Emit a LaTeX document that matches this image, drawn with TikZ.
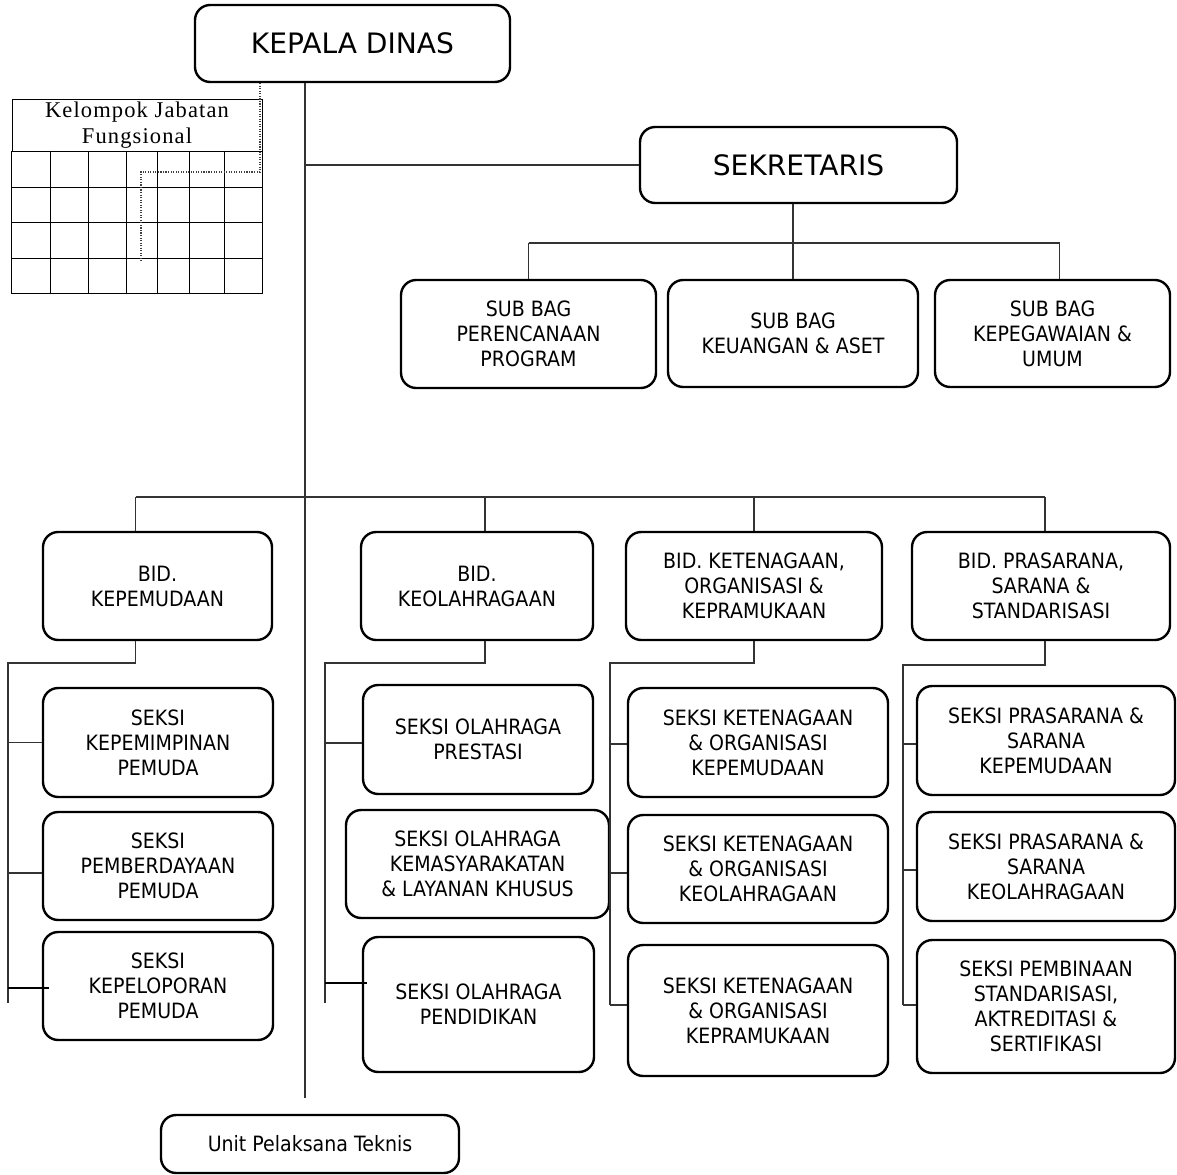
\documentclass[tikz,border=0pt]{standalone}
\usepackage{fontspec}
\usepackage{tikz}
\usetikzlibrary{calc}
\newfontfamily\orgfont{DejaVu Sans}
\newfontfamily\seksifont[FakeStretch=0.9]{DejaVu Sans}
\newfontfamily\jffont[LetterSpace=5]{Liberation Serif}
\newlength\pu
\setlength\pu{0.025cm}
\tikzset{
  org/.style={draw=black, line width=1.7pt, rounded corners=0.38cm, align=center, inner sep=0pt},
  big/.style={font=\orgfont\fontsize{20}{24}\selectfont},
  sml/.style={font=\seksifont\fontsize{15}{17.8}\selectfont},
  sz/.style 2 args={minimum width=#1*\pu, minimum height=#2*\pu},
  conn/.style={draw=black!80, line width=0.9pt},
  connb/.style={draw=black, line width=1.5pt},
  dotl/.style={draw=black!75, densely dotted, line width=0.8pt},
  grid/.style={draw=black, line width=0.7pt},
}
\begin{document}
\begin{tikzpicture}[x=0.025cm,y=-0.025cm]
  \useasboundingbox (0,0) rectangle (1177,1175);
  % pimpinan
  \node[org,big,sz={315}{77}] (kadis) at (352.5,43.5) {KEPALA DINAS};
  \node[org,big,sz={317}{76}] (sekr) at (798.5,165) {SEKRETARIS};
  \node[org,sml,sz={255}{108}] (sbp) at (528.5,334) {SUB BAG\\PERENCANAAN\\PROGRAM};
  \node[org,sml,sz={250}{107}] (sbk) at (793,333.5) {SUB BAG\\KEUANGAN \& ASET};
  \node[org,sml,sz={235}{107}] (sbu) at (1052.5,333.5) {SUB BAG\\KEPEGAWAIAN \&\\UMUM};
  % kelompok jabatan fungsional
  \node[draw=black, line width=0.7pt, sz={250}{52}, inner sep=0pt, align=center,
        font=\jffont\fontsize{16}{18.5}\selectfont] (jf) at (137,125) {Kelompok Jabatan\\Fungsional};
  \draw[grid] (jf.south west) rectangle (262,293);
  \foreach \x in {50,88,126,157,189,224}
    \draw[grid] (\x,151) -- (\x,293);
  \foreach \y in {187,222,258}
    \draw[grid] (12,\y) -- (262,\y);
  % bidang
  \node[org,sml,sz={229}{108}] (bid1) at (157.5,586) {BID.\\KEPEMUDAAN};
  \node[org,sml,sz={232}{108}] (bid2) at (477,586) {BID.\\KEOLAHRAGAAN};
  \node[org,sml,sz={256}{108}] (bid3) at (754,586) {BID. KETENAGAAN,\\ORGANISASI \&\\KEPRAMUKAAN};
  \node[org,sml,sz={258}{108}] (bid4) at (1041,586) {BID. PRASARANA,\\SARANA \&\\STANDARISASI};
  % seksi
  \node[org,sml,sz={230}{109}] (s11) at (158,742.5) {SEKSI\\KEPEMIMPINAN\\PEMUDA};
  \node[org,sml,sz={230}{108}] (s12) at (158,866) {SEKSI\\PEMBERDAYAAN\\PEMUDA};
  \node[org,sml,sz={230}{108}] (s13) at (158,986) {SEKSI\\KEPELOPORAN\\PEMUDA};
  \node[org,sml,sz={230}{109}] (s21) at (478,739.5) {SEKSI OLAHRAGA\\PRESTASI};
  \node[org,sml,sz={263}{108}] (s22) at (477.5,864) {SEKSI OLAHRAGA\\KEMASYARAKATAN\\\& LAYANAN KHUSUS};
  \node[org,sml,sz={231}{135}] (s23) at (478.5,1004.5) {SEKSI OLAHRAGA\\PENDIDIKAN};
  \node[org,sml,sz={260}{109}] (s31) at (758,742.5) {SEKSI KETENAGAAN\\\& ORGANISASI\\KEPEMUDAAN};
  \node[org,sml,sz={260}{108}] (s32) at (758,869) {SEKSI KETENAGAAN\\\& ORGANISASI\\KEOLAHRAGAAN};
  \node[org,sml,sz={260}{131}] (s33) at (758,1010.5) {SEKSI KETENAGAAN\\\& ORGANISASI\\KEPRAMUKAAN};
  \node[org,sml,sz={258}{109}] (s41) at (1046,740.5) {SEKSI PRASARANA \&\\SARANA\\KEPEMUDAAN};
  \node[org,sml,sz={258}{109}] (s42) at (1046,866.5) {SEKSI PRASARANA \&\\SARANA\\KEOLAHRAGAAN};
  \node[org,sml,sz={258}{133}] (s43) at (1046,1006.5) {SEKSI PEMBINAAN\\STANDARISASI,\\AKTREDITASI \&\\SERTIFIKASI};
  \node[org,sml,sz={298}{58}] (upt) at (310,1144) {Unit Pelaksana Teknis};

  % garis komando
  \coordinate (tr) at (305,1098);
  \coordinate (sbar) at (0,243);
  \coordinate (bbar) at (0,497);
  \draw[conn] (kadis.south -| tr) -- (tr);
  \draw[conn] (sekr.west -| tr) -- (sekr.west);
  \draw[conn] (sekr.south -| sbk.north) -- (sbk.north);
  \draw[conn] (sbp.north |- sbar) -- ($(sbu.north |- sbar)+(7,0)$);
  \draw[conn] (sbp.north |- sbar) -- (sbp.north);
  \draw[conn] ($(sbu.north |- sbar)+(7,0)$) -- ($(sbu.north)+(7,0)$);
  \draw[conn] ($(bid1.north |- bbar)+(-22,0)$) -- ($(bid4.north |- bbar)+(4,0)$);
  \draw[conn] ($(bid1.north |- bbar)+(-22,0)$) -- ($(bid1.north)+(-22,0)$);
  \draw[conn] ($(bid2.north |- bbar)+(8,0)$) -- ($(bid2.north)+(8,0)$);
  \draw[conn] (bid3.north |- bbar) -- (bid3.north);
  \draw[conn] ($(bid4.north |- bbar)+(4,0)$) -- ($(bid4.north)+(4,0)$);
  % garis jabatan fungsional
  \coordinate (fk) at (260,172);
  \coordinate (fj) at (141,261);
  \draw[dotl] (kadis.south -| fk) -- (fk) -| (fj);

  % bidang ke seksi
  \coordinate (l1) at (8,663);
  \coordinate (l2) at (325,663);
  \coordinate (l3) at (610,663);
  \coordinate (l4) at (903,665);
  \draw[conn] ($(bid1.south)+(-22,0)$) |- (l1) -- (8,1003);
  \draw[conn] (s11.west -| l1) -- (s11.west);
  \draw[conn] ($(s12.west -| l1)+(0,7)$) -- ($(s12.west)+(0,7)$);
  \draw[connb] ($(s13.west -| l1)+(0,2)$) -- ($(s13.west)+(7,2)$);
  \draw[conn] ($(bid2.south)+(8,0)$) |- (l2) -- (325,1003);
  \draw[conn] ($(s21.west -| l2)+(0,3.5)$) -- ($(s21.west)+(0,3.5)$);
  \draw[connb] ($(s23.west -| l2)+(0,-21.5)$) -- ($(s23.west)+(5,-21.5)$);
  \draw[conn] (bid3.south) |- (l3) -- (610,1005);
  \draw[conn] ($(s31.west -| l3)+(0,1.5)$) -- ($(s31.west)+(0,1.5)$);
  \draw[conn] ($(s32.west -| l3)+(0,4)$) -- ($(s32.west)+(0,4)$);
  \draw[conn] ($(s33.west -| l3)+(0,-5.5)$) -- ($(s33.west)+(0,-5.5)$);
  \draw[conn] ($(bid4.south)+(4,0)$) |- (l4) -- (903,1005);
  \draw[conn] ($(s41.west -| l4)+(0,3.5)$) -- ($(s41.west)+(0,3.5)$);
  \draw[conn] ($(s42.west -| l4)+(0,3.5)$) -- ($(s42.west)+(0,3.5)$);
  \draw[conn] ($(s43.west -| l4)+(0,-1.5)$) -- ($(s43.west)+(0,-1.5)$);
\end{tikzpicture}
\end{document}
